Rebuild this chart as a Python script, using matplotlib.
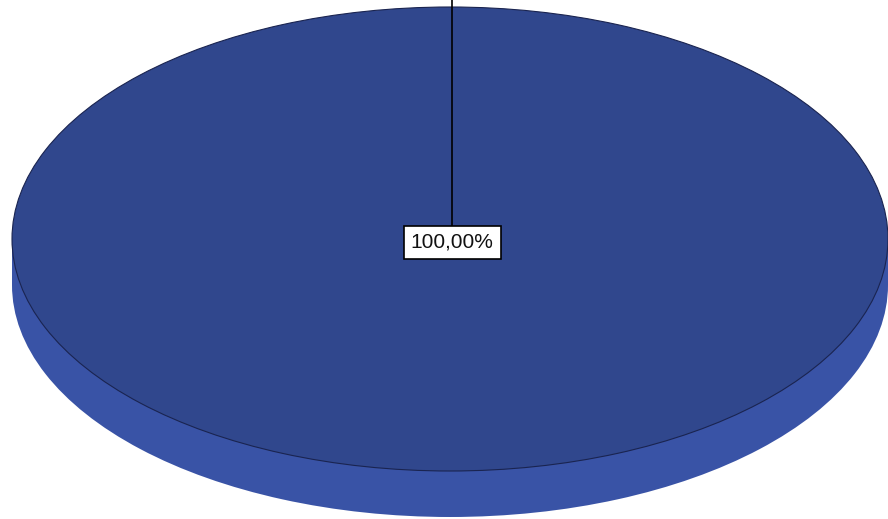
import numpy as np
import matplotlib.pyplot as plt
from matplotlib.patches import Rectangle

# single category pie, SPSS style 3D disc
shares = [100.0]
share_labels = ['100,00%']

top_color = '#30478d'
side_color = '#3953a6'
edge_color = '#1a2450'

fig = plt.figure(figsize=(8.88, 5.19), dpi=100)
ax = fig.add_axes([0, 0, 1, 1])

# pixel geometry of the disc, unit radius in data coords
cx_px, cy_px = 450, 239
rx_px, ry_px = 438, 232
depth = 46 / ry_px

# side of the disc: bottom ellipse + band between the two rims
ax.pie(shares, radius=1, center=(0, -depth), colors=[side_color],
       startangle=90, counterclock=False,
       wedgeprops=dict(linewidth=0))
ax.add_patch(Rectangle((-1, -depth), 2, depth, facecolor=side_color, linewidth=0, zorder=1))

# top face
wedges, _ = ax.pie(shares, radius=1, center=(0, 0), colors=[top_color],
                   startangle=90, counterclock=False,
                   wedgeprops=dict(linewidth=0.8, edgecolor=edge_color))
for w in wedges:
    w.set_zorder(2)

ax.set_aspect('auto')
ax.set_xlim(-cx_px / rx_px, (888 - cx_px) / rx_px)
ax.set_ylim(-(519 - cy_px) / ry_px, cy_px / ry_px)
ax.axis('off')

# leader line from the top rim to the label
ax.plot([0.005, 0.005], [0, cy_px / ry_px], color='black', linewidth=1.2, zorder=3)
ax.text(0.005, -0.015, share_labels[0], ha='center', va='center', fontsize=15,
        family='Liberation Sans', color='#111111', zorder=4,
        bbox=dict(boxstyle='square,pad=0.33', facecolor='white', edgecolor='black', linewidth=1.2))

fig.savefig('out.png', dpi=100)
